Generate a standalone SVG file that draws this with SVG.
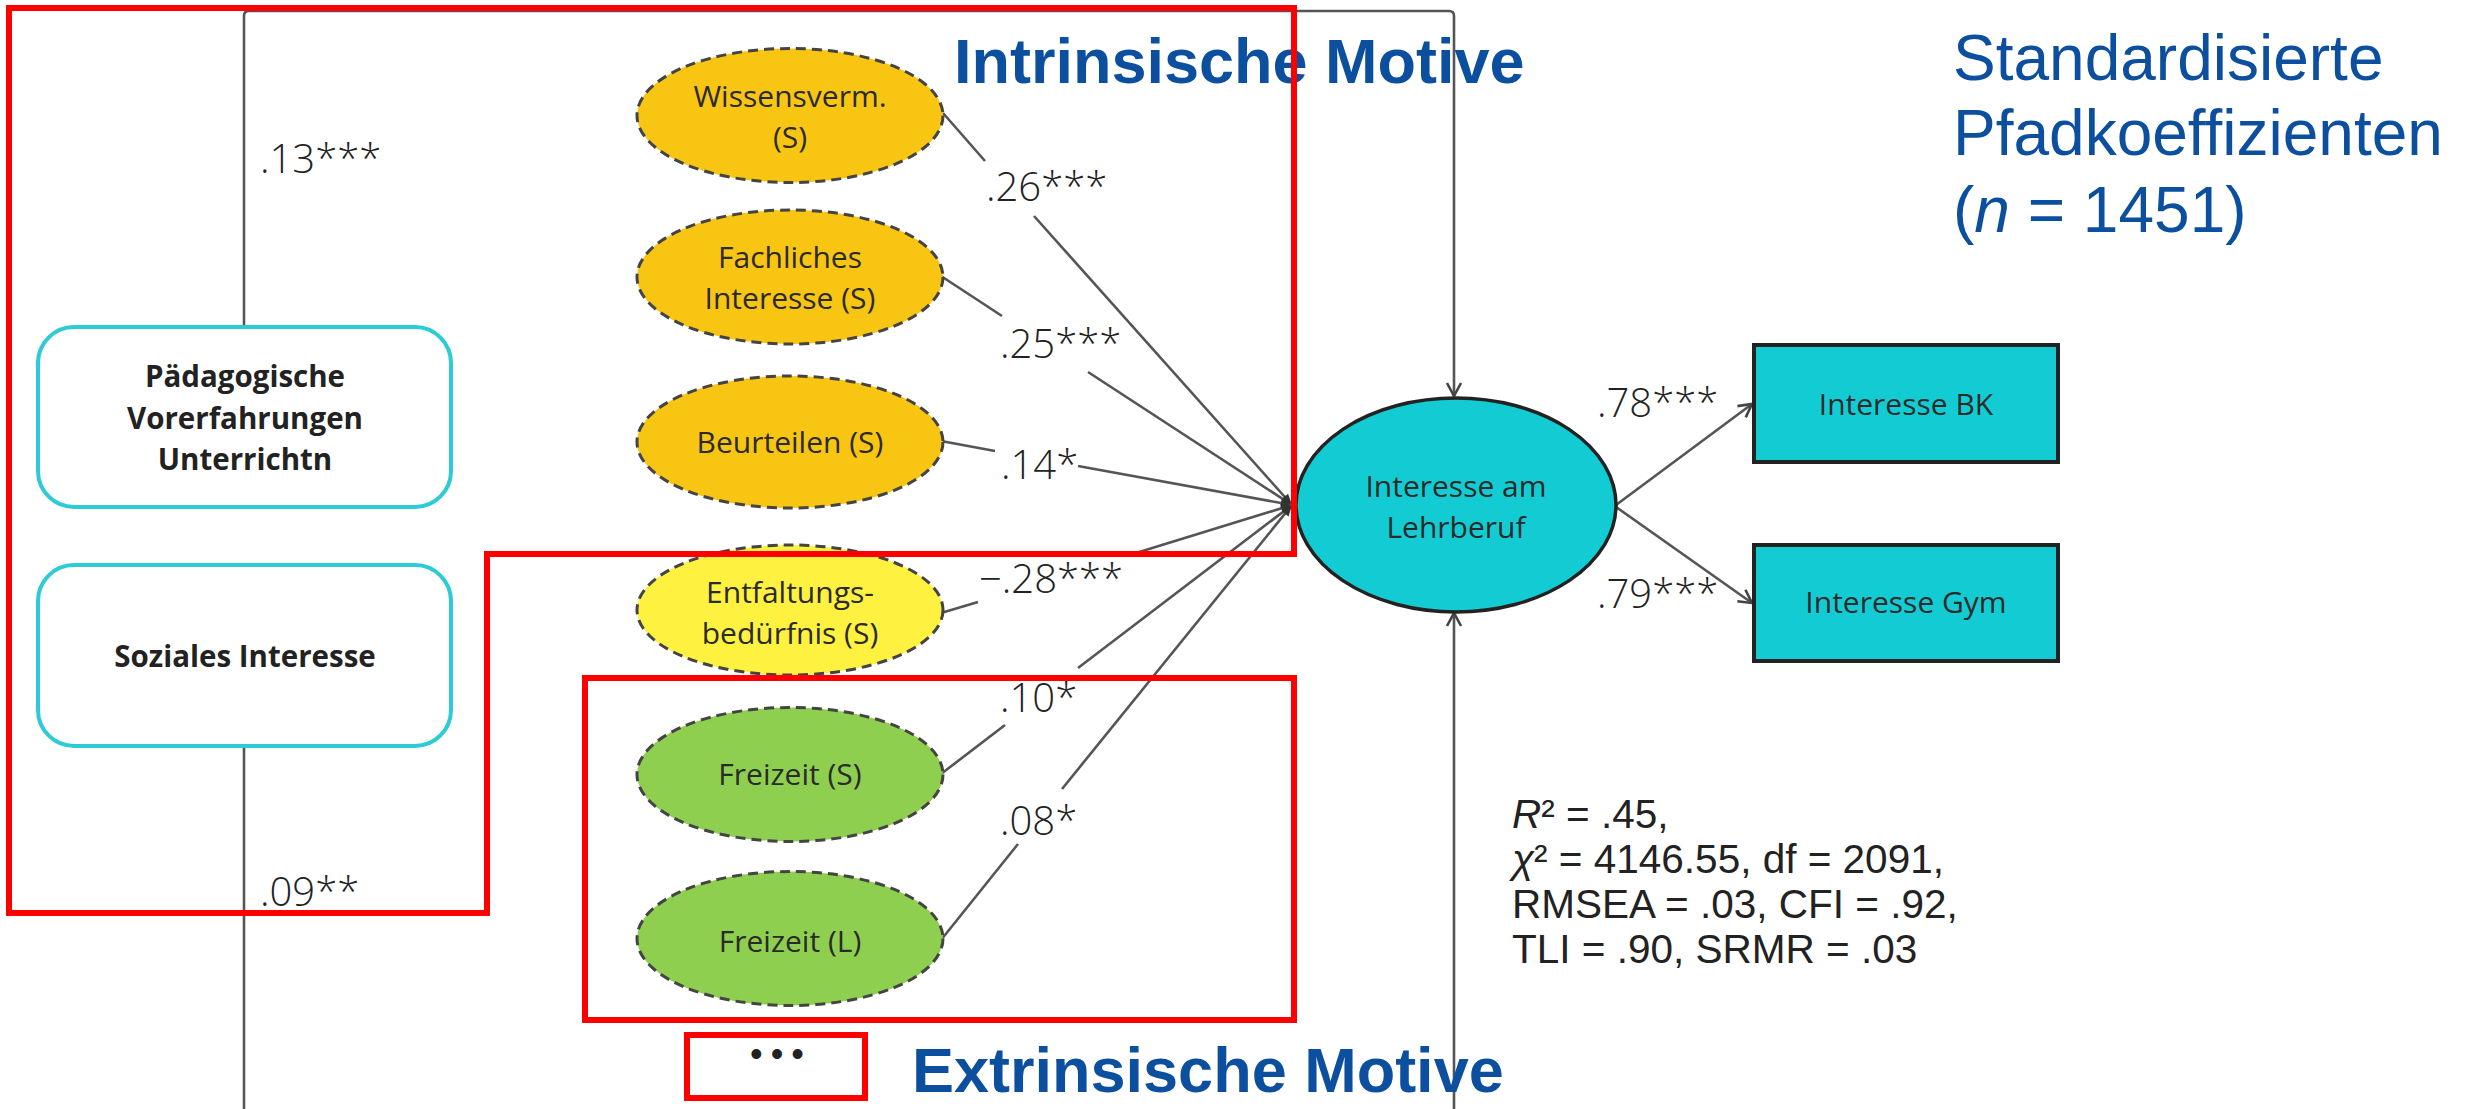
<svg xmlns="http://www.w3.org/2000/svg" width="2466" height="1109" viewBox="0 0 2466 1109">
<style>
.conn{fill:none;stroke:#555;stroke-width:2.6}
.mot{stroke:#444;stroke-width:3;stroke-dasharray:10 6}
.ntxt{font-family:"Open Sans","Liberation Sans",sans-serif;font-size:30px;fill:#2a2a2a;text-anchor:middle}
.btxt{font-family:"Open Sans","Liberation Sans",sans-serif;font-size:29.5px;font-weight:700;fill:#222;text-anchor:middle}
.lbl{font-family:"Open Sans","Liberation Sans",sans-serif;font-size:40px;font-weight:300;fill:#222}
.title{font-family:"Liberation Sans",Arial,sans-serif;font-size:63px;font-weight:700;fill:#0b4f9e}
.blue{font-family:"Liberation Sans",Arial,sans-serif;font-size:64px;fill:#0b4f9e}
.stat{font-family:"Liberation Sans",Arial,sans-serif;font-size:40.5px;fill:#222}
.red{fill:none;stroke:#ff0000;stroke-width:6;stroke-linejoin:miter}
</style>
<defs>
<marker id="aOpen" markerUnits="userSpaceOnUse" markerWidth="16" markerHeight="16" refX="13" refY="7" orient="auto" overflow="visible">
<path d="M0,0 L13,7 L0,14" fill="none" stroke="#444" stroke-width="2.6"/>
</marker>
<marker id="aFill" markerUnits="userSpaceOnUse" markerWidth="12" markerHeight="10" refX="11" refY="4.5" orient="auto" overflow="visible">
<path d="M0,0 L11,4.5 L0,9 z" fill="#333"/>
</marker>
</defs>
<rect width="2466" height="1109" fill="#fff"/>

<g id="connectors">
<path class="conn" d="M244,327 V16 Q244,11 249,11 H1449 Q1454,11 1454,16 V396" marker-end="url(#aOpen)"/>
<path class="conn" d="M244,746 V1115"/>
<path class="conn" d="M1454,1115 V613" marker-end="url(#aOpen)"/>
<path class="conn" d="M943,113 L985,161"/>
<path class="conn" d="M1034,216 L1292,505" marker-end="url(#aFill)"/>
<path class="conn" d="M941,276 L1002,316"/>
<path class="conn" d="M1088,372 L1292,505" marker-end="url(#aFill)"/>
<path class="conn" d="M941,441 L995,451"/>
<path class="conn" d="M1078,466 L1292,505" marker-end="url(#aFill)"/>
<path class="conn" d="M941,613 L978,602"/>
<path class="conn" d="M1136,553 L1292,505" marker-end="url(#aFill)"/>
<path class="conn" d="M941,774 L1005,725"/>
<path class="conn" d="M1078,668 L1292,505" marker-end="url(#aFill)"/>
<path class="conn" d="M941,940 L1018,844"/>
<path class="conn" d="M1062,789 L1292,505" marker-end="url(#aFill)"/>
<path class="conn" d="M1616,505 L1752,404" marker-end="url(#aOpen)"/>
<path class="conn" d="M1616,507 L1752,603" marker-end="url(#aOpen)"/>
</g>

<g id="paed">
<rect x="38" y="327" width="413" height="180" rx="36" fill="#fff" stroke="#2ccbd5" stroke-width="4"/>
<text class="btxt" x="245" y="387">Pädagogische</text>
<text class="btxt" x="245" y="429">Vorerfahrungen</text>
<text class="btxt" x="245" y="470">Unterrichtn</text>
</g>
<g id="sozial">
<rect x="38" y="565" width="413" height="181" rx="36" fill="#fff" stroke="#2ccbd5" stroke-width="4"/>
<text class="btxt" x="245" y="667">Soziales Interesse</text>
</g>

<g id="wissen">
<ellipse class="mot" cx="790" cy="115.5" rx="153" ry="67" fill="#f8c513"/>
<text class="ntxt" x="790" y="107">Wissensverm.</text>
<text class="ntxt" x="790" y="148">(S)</text>
</g>
<g id="fach">
<ellipse class="mot" cx="790" cy="277" rx="153" ry="67" fill="#f8c513"/>
<text class="ntxt" x="790" y="268">Fachliches</text>
<text class="ntxt" x="790" y="309">Interesse (S)</text>
</g>
<g id="beurteilen">
<ellipse class="mot" cx="790" cy="442" rx="153" ry="66" fill="#f8c513"/>
<text class="ntxt" x="790" y="453">Beurteilen (S)</text>
</g>
<g id="entfaltung">
<ellipse class="mot" cx="790" cy="610" rx="153" ry="65" fill="#fef13f"/>
<text class="ntxt" x="790" y="603">Entfaltungs-</text>
<text class="ntxt" x="790" y="644">bedürfnis (S)</text>
</g>
<g id="freizeitS">
<ellipse class="mot" cx="790" cy="774.5" rx="153" ry="67" fill="#8fcf4f"/>
<text class="ntxt" x="790" y="785">Freizeit (S)</text>
</g>
<g id="freizeitL">
<ellipse class="mot" cx="790" cy="938.5" rx="153" ry="67" fill="#8fcf4f"/>
<text class="ntxt" x="790" y="952">Freizeit (L)</text>
</g>

<g id="lehrberuf">
<ellipse cx="1456" cy="505" rx="160" ry="107" fill="#13ccd3" stroke="#222" stroke-width="3.5"/>
<text class="ntxt" x="1456" y="497">Interesse am</text>
<text class="ntxt" x="1456" y="538">Lehrberuf</text>
</g>
<g id="bk">
<rect x="1754" y="345" width="304" height="117" fill="#13ccd3" stroke="#222" stroke-width="4"/>
<text class="ntxt" x="1906" y="415">Interesse BK</text>
</g>
<g id="gym">
<rect x="1754" y="545" width="304" height="116" fill="#13ccd3" stroke="#222" stroke-width="4"/>
<text class="ntxt" x="1906" y="613">Interesse Gym</text>
</g>

<g id="labels">
<text class="lbl" x="260" y="173">.13***</text>
<text class="lbl" x="260" y="906">.09**</text>
<text class="lbl" x="986" y="201">.26***</text>
<text class="lbl" x="1000" y="358">.25***</text>
<text class="lbl" x="1001" y="479">.14*</text>
<text class="lbl" x="979" y="593">−.28***</text>
<text class="lbl" x="1000" y="712">.10*</text>
<text class="lbl" x="1000" y="835">.08*</text>
<text class="lbl" x="1597" y="417">.78***</text>
<text class="lbl" x="1597" y="608">.79***</text>
</g>

<g id="fit">
<text class="stat" x="1512" y="828"><tspan font-style="italic">R</tspan>² = .45,</text>
<text class="stat" x="1512" y="873"><tspan font-style="italic">χ</tspan>² = 4146.55, df = 2091,</text>
<text class="stat" x="1512" y="918">RMSEA = .03, CFI = .92,</text>
<text class="stat" x="1512" y="963">TLI = .90, SRMR = .03</text>
</g>

<g id="note">
<text class="blue" x="1953" y="80">Standardisierte</text>
<text class="blue" x="1953" y="155">Pfadkoeffizienten</text>
<text class="blue" x="1953" y="232">(<tspan font-style="italic">n</tspan> = 1451)</text>
</g>

<g id="groups">
<text class="title" x="954" y="83">Intrinsische Motive</text>
<text class="title" x="912" y="1092">Extrinsische Motive</text>
<path class="red" d="M9,8 H1294 V554 H487 V913 H9 Z"/>
<rect class="red" x="585" y="678" width="709" height="342"/>
<rect class="red" x="687" y="1035" width="178" height="63" stroke-width="8"/>
<text x="781" y="1066" font-family="'Liberation Sans',Arial,sans-serif" font-size="36" letter-spacing="8" fill="#222" text-anchor="middle">•••</text>
</g>
</svg>
